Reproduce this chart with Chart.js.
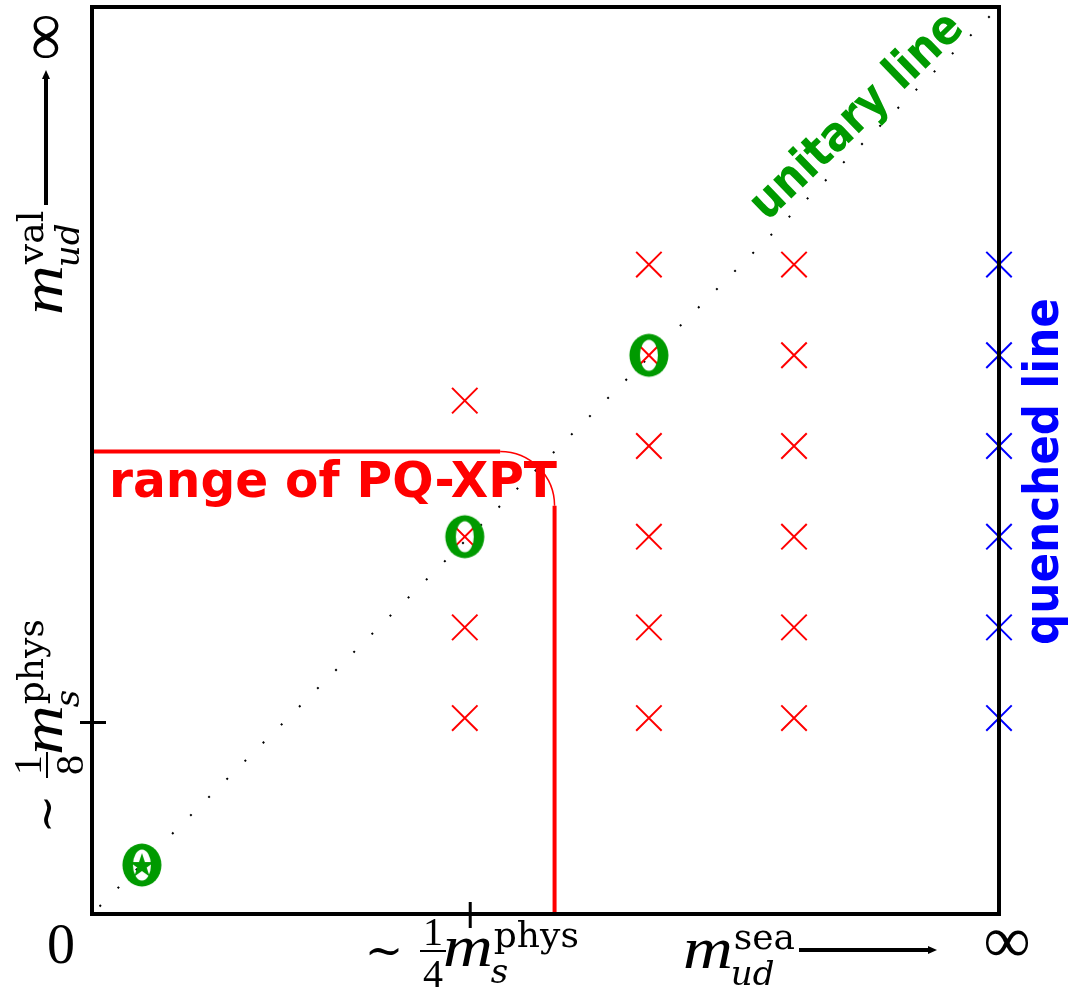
<!DOCTYPE html>
<html>
<head>
<meta charset="utf-8">
<script src="https://cdn.jsdelivr.net/npm/chart.js@4.4.1/dist/chart.umd.min.js"></script>
<style>
    html, body { margin: 0; padding: 0; background: #fff; }
    #wrap { width: 1078px; height: 988px; position: relative; }
</style>
</head>
<body>
<div id="wrap"><canvas id="pqChart"></canvas></div>
<script>
// axis: 0 = chiral limit, 100 = infinitely heavy (arbitrary units)
const axisMin = 0;
const axisMax = 100;

// partially quenched ensembles (red crosses): sea mass x, valence mass y
const pqX = [41.1, 41.1, 41.1, 41.1, 61.4, 61.4, 61.4, 61.4, 61.4, 61.4, 77.4, 77.4, 77.4, 77.4, 77.4, 77.4];
const pqY = [21.6, 31.6, 41.6, 56.6, 21.6, 31.6, 41.6, 51.6, 61.6, 71.6, 21.6, 31.6, 41.6, 51.6, 61.6, 71.6];

// quenched line (blue crosses), sea mass = infinity
const quenchedX = [100, 100, 100, 100, 100, 100];
const quenchedY = [21.6, 31.6, 41.6, 51.6, 61.6, 71.6];

// unitary points (green O), first one is the physical point
const unitaryX = [5.5, 41.1, 61.4];
const unitaryY = [5.4, 41.6, 61.6];

// unitary line m_val = m_sea
const unitaryLineX = [0, 100];
const unitaryLineY = [0, 100];

// range of PQ-XPT and rounding of its corner
const pqRange = 51;
const pqCorner = 6;

// tick positions: ~1/4 m_s^phys on x, ~1/8 m_s^phys on y
const tickX = 41.7;
const tickY = 21.1;

const RED = '#ff0000';
const BLUE = '#0000ff';
const GREEN = '#009a00';

const zip = (xs, ys) => xs.map((x, i) => ({ x, y: ys[i] }));

// the bold green "O" marker, optionally with a star inside
function makeRing(withStar) {
    const c = document.createElement('canvas');
    c.width = 42; c.height = 46;
    const g = c.getContext('2d');
    g.fillStyle = GREEN;
    g.beginPath();
    g.ellipse(21, 23, 19.5, 21.5, 0, 0, Math.PI * 2);
    g.fill();
    g.globalCompositeOperation = 'destination-out';
    g.beginPath();
    g.ellipse(21, 23, 9, 15.5, 0, 0, Math.PI * 2);
    g.fill();
    g.globalCompositeOperation = 'source-over';
    if (withStar) {
        g.beginPath();
        for (let i = 0; i < 10; i++) {
            const r = i % 2 ? 5 : 13;
            const a = -Math.PI / 2 + i * Math.PI / 5;
            g.lineTo(21 + r * Math.cos(a), 24 + r * Math.sin(a));
        }
        g.closePath();
        g.fill();
    }
    return c;
}

function rotated(ctx, x, y, angle, fn) {
    ctx.save();
    ctx.translate(x, y);
    ctx.rotate(angle);
    fn();
    ctx.restore();
}

// m_{sub}^{sup}, baseline at (x, y)
function drawMass(ctx, x, y, sub, sup) {
    ctx.font = 'italic 60px "Liberation Serif"';
    const w = ctx.measureText('m').width * 1.15;
    rotated(ctx, x, y, 0, () => {
        ctx.scale(1.15, 1);
        ctx.fillText('m', 0, 0);
    });
    ctx.font = '36px "DejaVu Serif"';
    ctx.fillText(sup, x + w + 1, y - 19);
    ctx.font = 'italic 34px "DejaVu Serif"';
    ctx.fillText(sub, x + w - 2, y + 17);
}

// ~ 1/denom m_s^phys, baseline at (x, y)
function drawFracMass(ctx, x, y, denom) {
    ctx.textAlign = 'center';
    ctx.font = '46px "DejaVu Serif"';
    ctx.fillText('\u223C', x + 18, y);
    ctx.font = '40px "Liberation Serif"';
    ctx.fillText('1', x + 67, y - 21);
    ctx.fillText(denom, x + 67, y + 21);
    ctx.fillRect(x + 54, y - 16, 26, 2);
    ctx.textAlign = 'left';
    drawMass(ctx, x + 77, y, 's', 'phys');
}

function arrow(ctx, x1, y1, x2, y2) {
    const a = Math.atan2(y2 - y1, x2 - x1);
    ctx.lineWidth = 4;
    ctx.beginPath();
    ctx.moveTo(x1, y1);
    ctx.lineTo(x2 - 6 * Math.cos(a), y2 - 6 * Math.sin(a));
    ctx.stroke();
    ctx.beginPath();
    ctx.moveTo(x2, y2);
    ctx.lineTo(x2 - 9 * Math.cos(a) + 4 * Math.sin(a), y2 - 9 * Math.sin(a) - 4 * Math.cos(a));
    ctx.lineTo(x2 - 9 * Math.cos(a) - 4 * Math.sin(a), y2 - 9 * Math.sin(a) + 4 * Math.cos(a));
    ctx.closePath();
    ctx.fill();
}

// bold sans text squeezed/stretched to a given width
function fitText(ctx, text, size, width) {
    ctx.font = 'bold ' + size + 'px "DejaVu Sans"';
    const w = ctx.measureText(text).width;
    ctx.scale(width / w, 1);
    ctx.fillText(text, 0, 0);
}

const framePlugin = {
    id: 'frame',
    afterDatasetsDraw(chart) {
        const { ctx, chartArea: a, scales: { x, y } } = chart;
        ctx.save();
        // rounded corner of the PQ-XPT range
        const cx = x.getPixelForValue(pqRange - pqCorner);
        const cy = y.getPixelForValue(pqRange - pqCorner);
        ctx.strokeStyle = RED;
        ctx.lineWidth = 1.5;
        ctx.beginPath();
        ctx.arc(cx, cy, x.getPixelForValue(pqRange) - cx, -Math.PI / 2, 0);
        ctx.stroke();
        // box and ticks
        ctx.strokeStyle = '#000';
        ctx.lineWidth = 4;
        ctx.strokeRect(a.left, a.top, a.right - a.left, a.bottom - a.top);
        ctx.lineWidth = 3;
        const tx = x.getPixelForValue(tickX);
        const ty = y.getPixelForValue(tickY);
        ctx.beginPath();
        ctx.moveTo(tx, a.bottom - 12); ctx.lineTo(tx, a.bottom + 14);
        ctx.moveTo(a.left - 12, ty); ctx.lineTo(a.left + 14, ty);
        ctx.stroke();
        ctx.restore();
    },
    afterDraw(chart) {
        const { ctx } = chart;
        ctx.save();
        ctx.fillStyle = '#000';
        ctx.strokeStyle = '#000';

        // axis labels
        ctx.font = '56px "Liberation Serif"';
        ctx.textAlign = 'center';
        ctx.fillText('0', 61, 963);
        ctx.font = '66px "Liberation Serif"';
        ctx.textBaseline = 'middle';
        ctx.fillText('\u221E', 1007, 945);
        rotated(ctx, 48, 37, -Math.PI / 2, () => ctx.fillText('\u221E', 0, 0));
        ctx.textBaseline = 'alphabetic';
        ctx.textAlign = 'left';

        drawFracMass(ctx, 366, 966, '4');
        rotated(ctx, 62, 832, -Math.PI / 2, () => drawFracMass(ctx, 0, 0, '8'));
        drawMass(ctx, 683, 968, 'ud', 'sea');
        rotated(ctx, 62, 315, -Math.PI / 2, () => drawMass(ctx, 0, 0, 'ud', 'val'));
        arrow(ctx, 799, 950, 937, 950);
        arrow(ctx, 46, 205, 46, 70);

        // annotations
        ctx.fillStyle = RED;
        rotated(ctx, 109, 497, 0, () => fitText(ctx, 'range of PQ-XPT', 50, 448));
        ctx.fillStyle = BLUE;
        rotated(ctx, 1058, 645, -Math.PI / 2, () => fitText(ctx, 'quenched line', 48, 347));
        ctx.fillStyle = GREEN;
        rotated(ctx, 767, 222, -44 * Math.PI / 180, () => fitText(ctx, 'unitary line', 48, 276));
        ctx.restore();
    }
};

const ring = makeRing(false);
const starRing = makeRing(true);

new Chart(document.getElementById('pqChart'), {
    type: 'scatter',
    data: {
        datasets: [
            {
                data: zip(unitaryLineX, unitaryLineY),
                showLine: true,
                borderColor: '#000',
                borderWidth: 2,
                borderDash: [2, 23.65],
                borderDashOffset: 15,
                pointRadius: 0,
                order: 6
            },
            {
                data: zip(pqX, pqY),
                pointStyle: 'crossRot',
                pointRadius: 18,
                borderColor: RED,
                borderWidth: 2,
                order: 4
            },
            {
                data: zip(quenchedX, quenchedY),
                pointStyle: 'crossRot',
                pointRadius: 18,
                borderColor: BLUE,
                borderWidth: 2,
                order: 4
            },
            {
                data: zip(unitaryX, unitaryY),
                pointStyle: [starRing, ring, ring],
                order: 1
            },
            {
                data: [{ x: axisMin, y: pqRange }, { x: pqRange - pqCorner, y: pqRange }],
                showLine: true,
                borderColor: RED,
                borderWidth: 4,
                pointRadius: 0,
                order: 3
            },
            {
                data: [{ x: pqRange, y: pqRange - pqCorner }, { x: pqRange, y: axisMin }],
                showLine: true,
                borderColor: RED,
                borderWidth: 4,
                pointRadius: 0,
                order: 3
            }
        ]
    },
    options: {
        responsive: true,
        maintainAspectRatio: false,
        animation: false,
        clip: false,
        layout: { autoPadding: false, padding: { left: 92, top: 7, right: 79, bottom: 74 } },
        scales: {
            x: { type: 'linear', min: axisMin, max: axisMax, display: false },
            y: { type: 'linear', min: axisMin, max: axisMax, display: false }
        },
        plugins: {
            legend: { display: false },
            tooltip: { enabled: false }
        }
    },
    plugins: [framePlugin]
});
</script>
</body>
</html>
